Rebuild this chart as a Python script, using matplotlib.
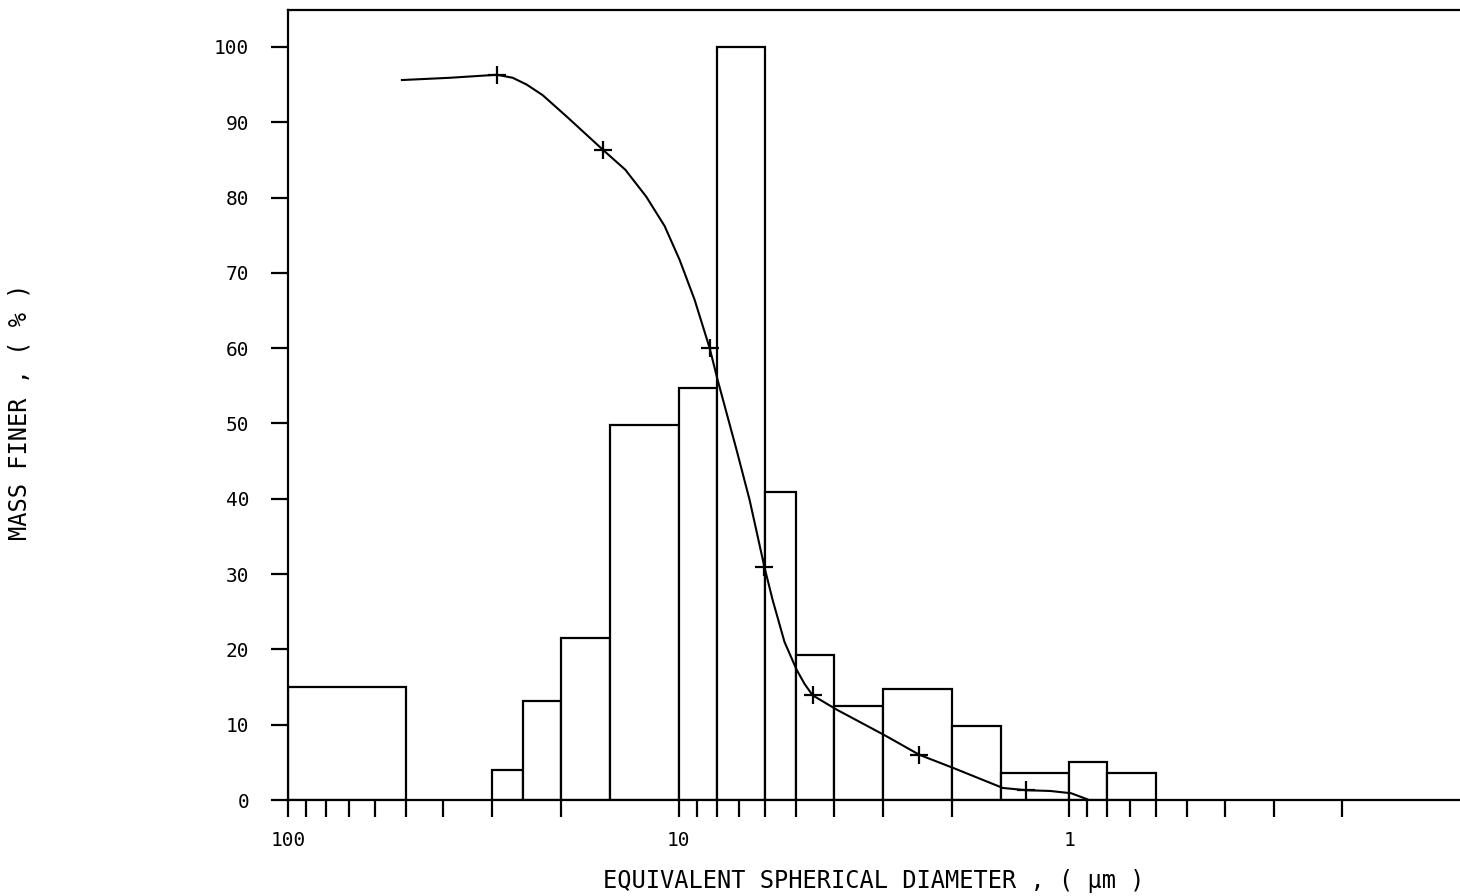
import matplotlib.pyplot as plt
import matplotlib.ticker as mtick
import numpy as np

plt.rcParams["font.family"] = ["DejaVu Sans Mono", "DejaVu Sans"]

# histogram bins: diameter edges (um) and relative mass in each bin
bin_coarse = [100, 30, 25, 20, 15, 10, 8, 6, 5, 4, 3, 2, 1.5, 1, 0.8]
bin_fine = [50, 25, 20, 15, 10, 8, 6, 5, 4, 3, 2, 1.5, 1, 0.8, 0.6]
bin_height = [15, 4, 13.1, 21.5, 49.8, 54.7, 100, 40.9, 19.3, 12.5, 14.7, 9.8, 3.6, 5.0, 3.6]

# cumulative mass finer curve
curve_d = [51.1, 38.5, 29.2, 26.6, 24.5, 22.3, 19.3, 15.6, 13.7, 12.1, 10.86, 9.94,
           9.10, 8.33, 7.95, 7.11, 6.58, 6.03, 5.75, 5.36, 4.99, 4.76, 4.54, 3.94,
           2.97, 2.42, 1.97, 1.48, 1.29, 1.12, 0.99, 0.90]
curve_v = [95.6, 95.9, 96.3, 95.9, 95.0, 93.6, 90.7, 86.3, 83.7, 80.1, 76.2, 71.7,
           66.4, 60.0, 55.8, 46.5, 39.8, 30.9, 26.6, 21.0, 17.3, 15.4, 13.9, 12.0,
           8.6, 6.0, 4.2, 1.6, 1.3, 1.2, 0.9, 0.1]

# measured points (+)
mark_d = [29.2, 15.6, 8.33, 6.03, 4.54, 2.42, 1.29]
mark_v = [96.3, 86.3, 60.0, 30.9, 13.9, 6.0, 1.3]

yticks = [0, 10, 20, 30, 40, 50, 60, 70, 80, 90, 100]
xticks = [100, 10, 1]
xticklabels = ["100", "10", "1"]

fig = plt.figure(figsize=(14.6, 8.96), dpi=100)
ax = fig.add_axes([288 / 1460, 1 - 800 / 896, 1 - 288 / 1460, 790 / 896])

lw = 1.6
left = np.array(bin_fine)
width = np.array(bin_coarse) - left
ax.bar(left, bin_height, width=width, align="edge", facecolor="white",
       edgecolor="black", linewidth=lw, zorder=2)

ax.plot(curve_d, curve_v, color="black", linewidth=1.5, zorder=3)
ax.plot(mark_d, mark_v, linestyle="none", marker="+", markersize=13,
        markeredgewidth=1.6, color="black", zorder=4)

ax.set_xscale("log")
ax.set_xlim(100, 0.1)
ax.set_ylim(0, 104.9)

ax.set_xticks(xticks)
ax.set_xticklabels(xticklabels)
ax.xaxis.set_minor_locator(mtick.LogLocator(base=10, subs=np.arange(2, 10)))
ax.xaxis.set_minor_formatter(mtick.NullFormatter())
ax.set_yticks(yticks)
ax.set_yticklabels([str(v) for v in yticks])

ax.tick_params(axis="both", which="both", direction="out", length=12, width=lw,
               labelsize=14)
ax.tick_params(axis="y", pad=16)
ax.tick_params(axis="x", pad=10)

for side in ["left", "bottom", "top"]:
    ax.spines[side].set_linewidth(lw)
ax.spines["right"].set_visible(False)

fig.text(874 / 1460, 1 - 881 / 896, "EQUIVALENT SPHERICAL DIAMETER , ( \u00b5m )",
         ha="center", va="center", fontsize=17)
fig.text(20 / 1460, 1 - 412 / 896, "MASS FINER , ( % )", rotation=90,
         ha="center", va="center", fontsize=17)

fig.savefig("out.png", dpi=100)
